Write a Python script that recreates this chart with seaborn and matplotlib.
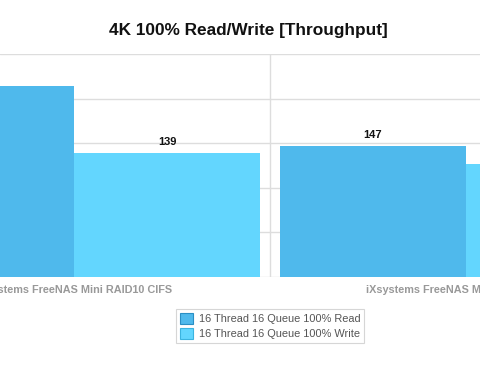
import matplotlib
matplotlib.use("Agg")
import matplotlib.pyplot as plt
import seaborn as sns
import pandas as pd
from matplotlib.patches import Patch

systems = ["iXsystems FreeNAS Mini RAID10 CIFS", "iXsystems FreeNAS Mini RAID10 iSCSI"]
series = ["16 Thread 16 Queue 100% Read", "16 Thread 16 Queue 100% Write"]
read_vals = [214, 147]
write_vals = [139, 127]
colors = ["#4FB9EC", "#63D6FE"]
edge_colors = ["#2a8fc4", "#3bb4e0"]

df = pd.DataFrame({
    "system": systems * 2,
    "series": [series[0]] * 2 + [series[1]] * 2,
    "value": read_vals + write_vals,
})

sns.set_style("white")
plt.rcParams["font.family"] = ["Liberation Sans", "DejaVu Sans"]

fig = plt.figure(figsize=(4.8, 3.7), dpi=100)
ax = fig.add_axes([0, 93 / 370, 1, 223 / 370])

sns.barplot(data=df, x="system", y="value", hue="series", palette=colors,
            width=0.95, gap=0, saturation=1, ax=ax, zorder=2, legend=False,
            linewidth=0)

ax.set_xlim(-74 / 392, (480 - 74) / 392)
ax.set_ylim(0, 250)
ax.set_yticks([0, 50, 100, 150, 200, 250])
ax.set_yticklabels([])
ax.tick_params(axis="y", length=0)
ax.grid(axis="y", color="#dddddd", linewidth=1, zorder=0)
ax.set_axisbelow(True)
for b in [-0.5, 0.5, 1.5]:
    ax.axvline(b, color="#dddddd", linewidth=1, zorder=0)
for s in ax.spines.values():
    s.set_visible(False)

ax.set_xlabel("")
ax.set_ylabel("")
ax.tick_params(axis="x", length=0, pad=6)
for lbl in ax.get_xticklabels():
    lbl.set_fontweight("bold")
    lbl.set_color("#999999")
    lbl.set_fontsize(7.8)

for cont in ax.containers:
    ax.bar_label(cont, fmt="%d", padding=4, fontsize=8, fontweight="bold", color="#111111")

fig.text(248 / 480, 1 - 30 / 370, "4K 100% Read/Write [Throughput]", ha="center", va="center",
         fontsize=12.4, fontweight="bold", color="#111111")

handles = [Patch(facecolor=c, edgecolor=e, linewidth=0.8) for c, e in zip(colors, edge_colors)]
leg = fig.legend(handles, series, loc="center", bbox_to_anchor=(270 / 480, 1 - 326 / 370),
                 fontsize=7.9, frameon=True, fancybox=False, handlelength=1.25, handleheight=1.25,
                 handletextpad=0.5, borderpad=0.35, labelspacing=0.3)
leg.get_frame().set_edgecolor("#cccccc")
leg.get_frame().set_linewidth(0.8)
for t in leg.get_texts():
    t.set_color("#555555")

fig.savefig("out.png", dpi=100)
